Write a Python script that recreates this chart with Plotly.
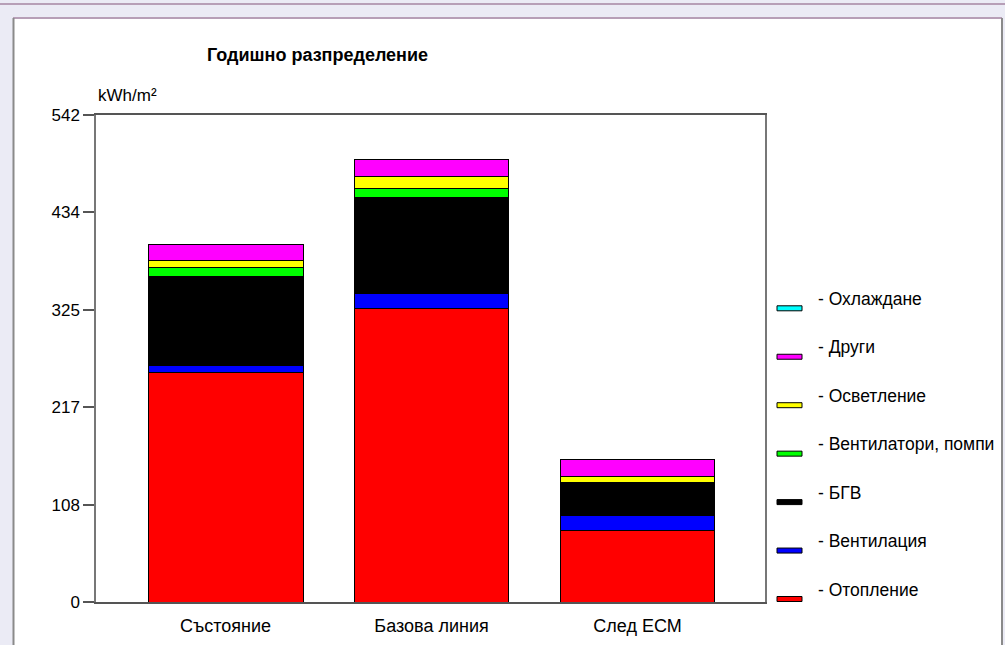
import plotly.graph_objects as go

categories = ["Състояние", "Базова линия", "След ЕСМ"]

heating = [255, 327, 79.4]          # Отопление
ventilation = [7.8, 16.7, 16.7]     # Вентилация
dhw = [99.4, 106.4, 37.2]           # БГВ
fans_pumps = [10.5, 10.4, 0]        # Вентилатори, помпи
lighting = [7.0, 12.9, 6.3]         # Осветление
other = [18.6, 18.6, 18.6]          # Други
cooling = [0, 0, 0]                 # Охлаждане

series_names = ["Отопление", "Вентилация", "БГВ", "Вентилатори, помпи",
                "Осветление", "Други", "Охлаждане"]
series_values = [heating, ventilation, dhw, fans_pumps, lighting, other, cooling]
series_colors = ["#FF0000", "#0000FF", "#000000", "#00FF00",
                 "#FFFF00", "#FF00FF", "#00FFFF"]

y_max = 542
y_tick_vals = [0, 108.4, 216.8, 325.2, 433.6, 542]
y_tick_text = ["0", "108", "217", "325", "434", "542"]

W, H = 1005, 645
L, R, T, B = 96, 765, 115, 602.5


def px(x):
    return (x - L) / (R - L)


def py(y):
    return (B - y) / (B - T)


FONT = "Liberation Sans, Arial, sans-serif"

fig = go.Figure()
for name, vals, col in zip(series_names, series_values, series_colors):
    fig.add_trace(go.Bar(
        x=categories, y=vals, name=name,
        marker=dict(color=col, line=dict(color="#000000", width=1 if any(vals) else 0)),
        showlegend=False, hoverinfo="x+y+name",
    ))

shapes = [
    # page frame
    dict(type="rect", xref="paper", yref="paper", x0=px(13), x1=px(1002), y0=py(18), y1=py(650),
         fillcolor="white", line=dict(width=0), layer="below"),
    dict(type="line", xref="paper", yref="paper", x0=px(0), x1=px(1005), y0=py(4), y1=py(4),
         line=dict(color="#B79FB7", width=2)),
    dict(type="line", xref="paper", yref="paper", x0=px(13), x1=px(1002), y0=py(18), y1=py(18),
         line=dict(color="#B79FB7", width=2)),
    dict(type="line", xref="paper", yref="paper", x0=px(13.5), x1=px(13.5), y0=py(18), y1=py(650),
         line=dict(color="#8A8A8A", width=2)),
    dict(type="line", xref="paper", yref="paper", x0=px(1002), x1=px(1002), y0=py(18), y1=py(650),
         line=dict(color="#8A8A8A", width=2)),
]

annotations = [
    dict(text="<b>Годишно разпределение</b>", xref="paper", yref="paper",
         x=px(317), y=py(55), xanchor="center", yanchor="middle", showarrow=False,
         font=dict(family=FONT, size=18, color="#000")),
    dict(text="kWh/m²", xref="paper", yref="paper",
         x=px(96), y=py(95), xanchor="left", yanchor="middle", showarrow=False,
         font=dict(family=FONT, size=17, color="#000")),
]

# legend (top to bottom: reversed stacking order)
legend_top = 299
legend_step = 48.5
for i, (name, col) in enumerate(zip(series_names[::-1], series_colors[::-1])):
    yc = legend_top + i * legend_step
    annotations.append(dict(
        text="- " + name, xref="paper", yref="paper", x=px(816), y=py(yc),
        xanchor="left", yanchor="middle", showarrow=False,
        font=dict(family=FONT, size=17.5, color="#000")))
    shapes.append(dict(
        type="rect", xref="paper", yref="paper",
        x0=px(777), x1=px(802), y0=py(yc + 7), y1=py(yc + 12),
        fillcolor=col, line=dict(color="#000", width=1)))

fig.update_layout(
    width=W, height=H,
    margin=dict(l=L, r=W - R, t=T, b=H - B, autoexpand=False),
    paper_bgcolor="#EBEBF5",
    plot_bgcolor="white",
    barmode="stack",
    bargap=0.248,
    showlegend=False,
    shapes=shapes,
    annotations=annotations,
    font=dict(family=FONT, size=17, color="#000"),
    xaxis=dict(
        type="category", range=[-0.629, 2.619],
        showline=True, linecolor="#555", linewidth=1.5, mirror=True,
        ticks="outside", ticklen=7, tickcolor="rgba(0,0,0,0)",
        showgrid=False, tickfont=dict(family=FONT, size=18, color="#000"),
    ),
    yaxis=dict(
        range=[0, y_max], tickvals=y_tick_vals, ticktext=y_tick_text,
        showline=True, linecolor="#777", linewidth=1.5, mirror=True,
        ticks="outside", ticklen=11, tickcolor="#555", tickwidth=1.5,
        showgrid=False, zeroline=False,
        tickfont=dict(family=FONT, size=17, color="#000"),
    ),
)

fig.write_html("out.html", config={"displayModeBar": False},
               post_script="document.body.style.margin='0';document.body.style.overflow='hidden';")
